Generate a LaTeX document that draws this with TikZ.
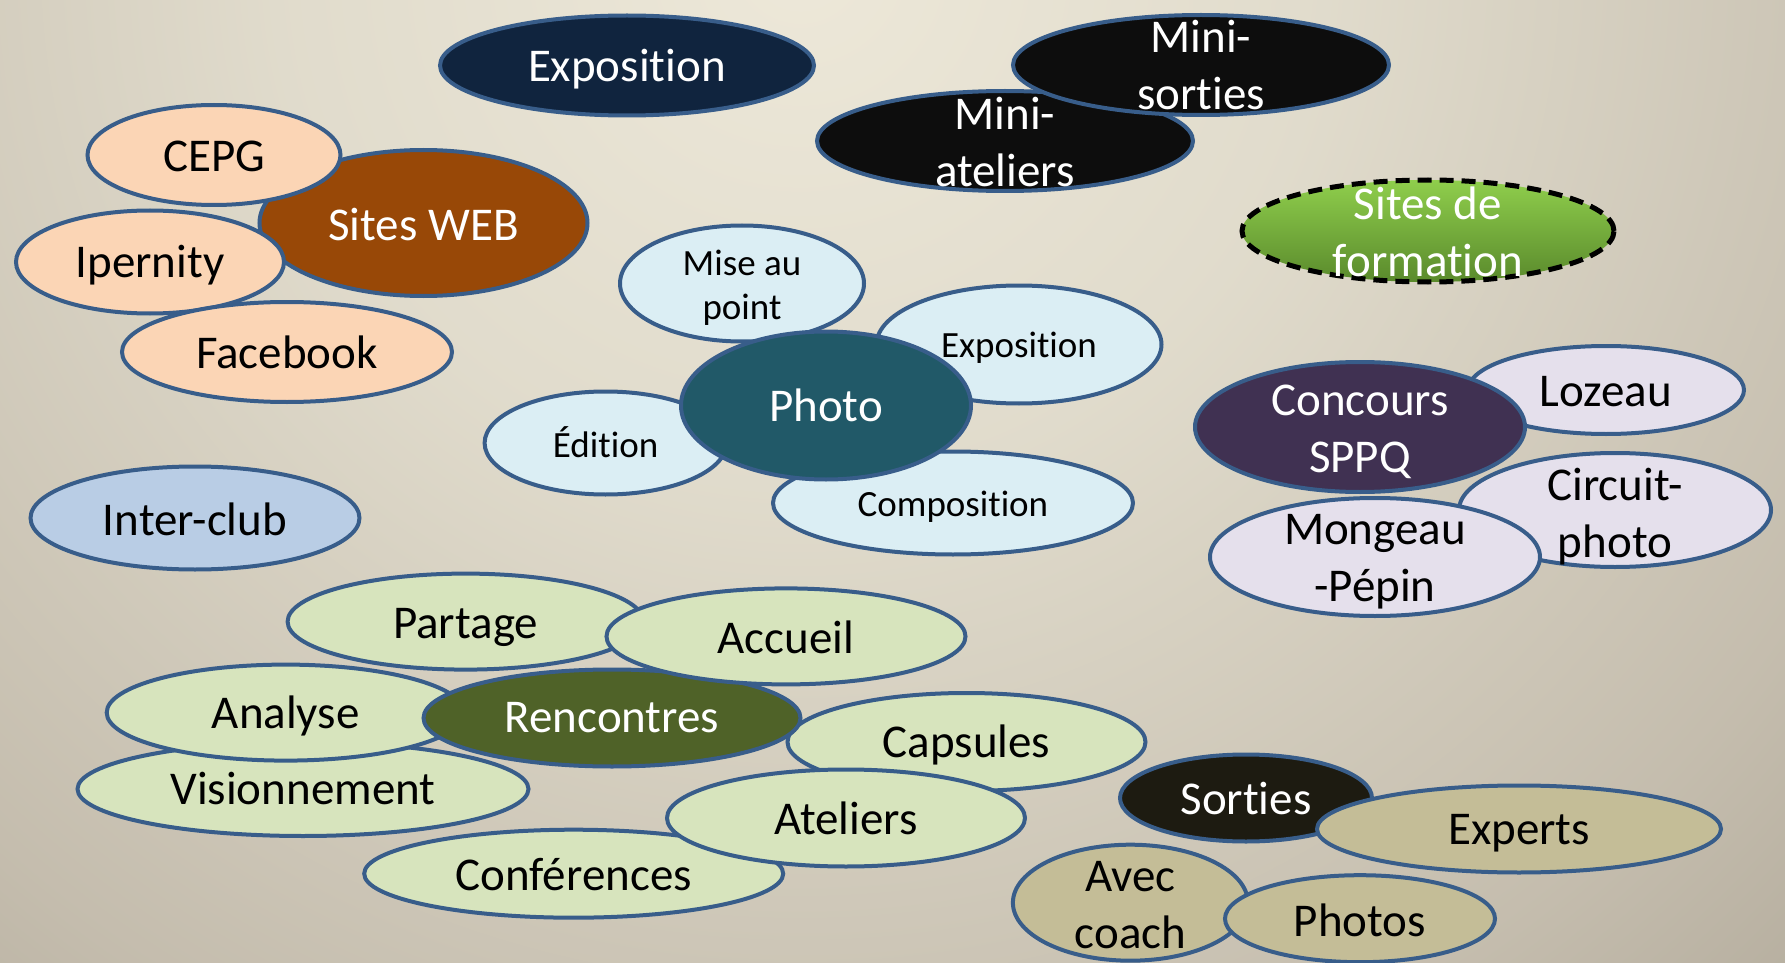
\documentclass[tikz,border=0pt]{standalone}
\usepackage{fontspec}
\setmainfont[Ligatures={NoCommon,NoContextual}]{Carlito}
\usetikzlibrary{shapes.geometric}
\definecolor{bord}{HTML}{385D8A}
\definecolor{navy}{HTML}{10243E}
\definecolor{minic}{HTML}{0D0D0D}
\definecolor{peach}{HTML}{FBD5B5}
\definecolor{brownc}{HTML}{984807}
\definecolor{ltblue}{HTML}{DBEEF4}
\definecolor{teal}{HTML}{215968}
\definecolor{gtop}{HTML}{8FCE4C}
\definecolor{gbot}{HTML}{5A8A2C}
\definecolor{purp}{HTML}{403152}
\definecolor{lav}{HTML}{E5E0EC}
\definecolor{interc}{HTML}{B9CDE5}
\definecolor{pgreen}{HTML}{D7E4BD}
\definecolor{olive}{HTML}{4F6228}
\definecolor{sortc}{HTML}{1D1B11}
\definecolor{tan}{HTML}{C4BD97}
\pgfdeclareradialshading{bgshade}{\pgfpoint{0bp}{0bp}}{rgb(0bp)=(0.93,0.91,0.85); rgb(9bp)=(0.88,0.86,0.80); rgb(20.6bp)=(0.77,0.74,0.68); rgb(25.1bp)=(0.71,0.68,0.62); rgb(29.6bp)=(0.65,0.62,0.56); rgb(34.1bp)=(0.61,0.58,0.52); rgb(39bp)=(0.56,0.53,0.47); rgb(44.8bp)=(0.49,0.47,0.41); rgb(50bp)=(0.46,0.44,0.38)}
\tikzset{
  bub/.style={ellipse, draw=bord, line width=2pt, inner sep=0pt},
  big/.style={font=\fontsize{23.5}{28.5}\selectfont, align=center, inner sep=0pt},
  small/.style={font=\fontsize{18.5}{22}\selectfont, align=center, inner sep=0pt},
  wt/.style={text=white},
  dashedbub/.style={ellipse, draw=black, line width=2.5pt, dash pattern=on 7pt off 4pt, inner sep=0pt, top color=gtop, bottom color=gbot}
}
% #1 name, #2 x, #3 y, #4 rx, #5 ry, #6 shape style, #7 text style, #8 text
\newcommand\bubble[8]{%
  \node[bub,#6,minimum width=#4pt,minimum height=#5pt] (#1) at (#2,#3) {};
  \node[#7] (#1-t) at (#1.center) {#8};}
\begin{document}
\begin{tikzpicture}[x=0.5pt,y=-0.5pt]
\useasboundingbox (0,0) rectangle (1785,963);
\begin{scope}
  \clip (0,0) rectangle (1785,963);
  \shade[shading=bgshade] (800,-40) circle[radius=1450];
\end{scope}
% top
\bubble{expo}{627}{65.5}{187}{50}{fill=navy}{big,wt,yshift=-1.7pt}{Exposition}
\bubble{minia}{1005}{141}{188}{50}{fill=minic}{big,wt,yshift=-0.3pt}{Mini-\\ateliers}
\bubble{minis}{1201}{65}{188}{50}{fill=minic}{big,wt}{Mini-\\sorties}
% web
\bubble{web}{423.5}{223}{164}{73}{fill=brownc}{big,wt,yshift=-0.6pt}{Sites WEB}
\bubble{cepg}{214}{155}{126.5}{50}{fill=peach}{big,yshift=-0.6pt}{CEPG}
\bubble{ipernity}{150}{262}{134}{51.5}{fill=peach}{big,yshift=-1.7pt}{Ipernity}
\bubble{facebook}{287}{352}{165}{50}{fill=peach}{big}{Facebook}
% photo
\bubble{mise}{742}{283.5}{122}{58}{fill=ltblue}{small,yshift=-2.3pt}{Mise au\\point}
\bubble{expo2}{1019}{344.5}{142.5}{59}{fill=ltblue}{small,yshift=-1.7pt}{Exposition}
\bubble{edition}{605.6}{443}{121}{51.5}{fill=ltblue}{small,yshift=0.6pt}{Édition}
\bubble{compo}{953}{503}{180}{51.5}{fill=ltblue}{small,yshift=-1.7pt}{Composition}
\bubble{photo}{826}{405.5}{145}{74}{fill=teal}{big,wt}{Photo}
% formation
\node[dashedbub,minimum width=186pt,minimum height=51pt] (formation) at (1428,231) {};
\node[big,wt,yshift=-0.6pt] (formation-t) at (formation.center) {Sites de\\formation};
% concours
\bubble{lozeau}{1606}{390}{138}{44}{fill=lav}{big,yshift=-0.6pt}{Lozeau}
\bubble{circuit}{1615}{510}{156}{57}{fill=lav}{big,yshift=-3.4pt}{Circuit-\\photo}
\bubble{concours}{1360}{427}{165}{65}{fill=purp}{big,wt,yshift=-2.6pt}{Concours\\SPPQ}
\bubble{mongeau}{1375}{557}{165}{59}{fill=lav}{big,yshift=-2.6pt}{Mongeau\\-Pépin}
% inter-club
\bubble{inter}{195}{518}{164.5}{51.5}{fill=interc}{big,yshift=-0.6pt}{Inter-club}
% rencontres
\bubble{partage}{465.6}{621.6}{178}{48}{fill=pgreen}{big,yshift=-2.8pt}{Partage}
\bubble{vision}{303}{789}{225.5}{47}{fill=pgreen}{big}{Visionnement}
\bubble{analyse}{285.7}{712.6}{179}{48}{fill=pgreen}{big,yshift=-1.7pt}{Analyse}
\bubble{capsules}{966.5}{742}{179}{49}{fill=pgreen}{big,yshift=-1.7pt}{Capsules}
\bubble{rencontres}{612}{718}{188.5}{48.5}{fill=olive}{big,wt}{Rencontres}
\bubble{accueil}{786}{636.4}{179.5}{48}{fill=pgreen}{big,yshift=-0.6pt}{Accueil}
\bubble{conf}{573.7}{873.7}{209.5}{44}{fill=pgreen}{big,yshift=-0.6pt}{Conférences}
\bubble{ateliers}{846}{818}{179}{48.5}{fill=pgreen}{big}{Ateliers}
% sorties
\bubble{sorties}{1246}{798}{126}{43.5}{fill=sortc}{big,wt}{Sorties}
\bubble{experts}{1519}{829}{202}{43.5}{fill=tan}{big,yshift=-2.3pt}{Experts}
\bubble{avec}{1130.4}{902.7}{117.5}{58}{fill=tan}{big,yshift=-1.1pt}{Avec\\coach}
\bubble{photos}{1360}{918.7}{135}{43.5}{fill=tan}{big,yshift=-0.6pt}{Photos}
\end{tikzpicture}
\end{document}
